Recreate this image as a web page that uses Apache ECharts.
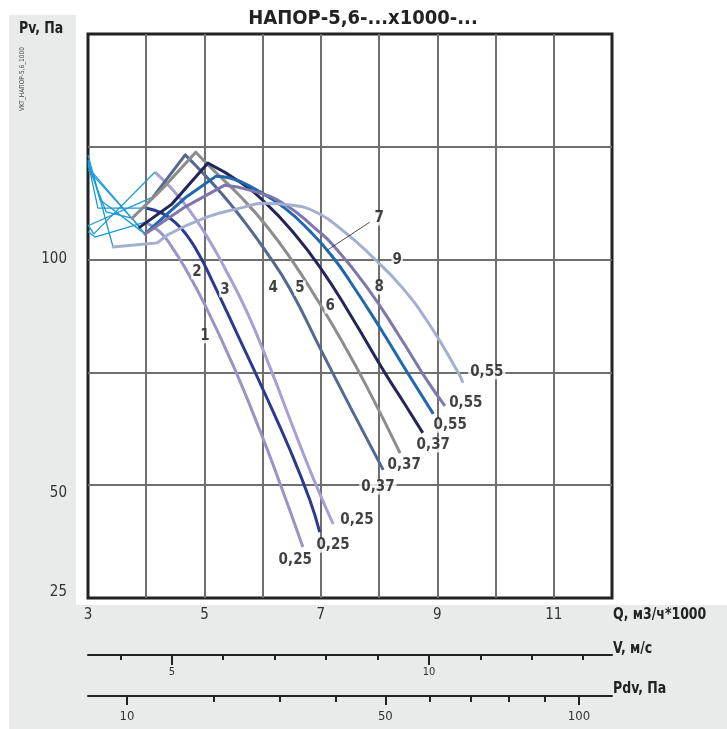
<!DOCTYPE html>
<html><head><meta charset="utf-8">
<script src="https://cdn.jsdelivr.net/npm/echarts@6/dist/echarts.min.js"></script>
<style>html,body{margin:0;padding:0;background:#fff}#c{width:727px;height:729px}</style>
</head><body><div id="c"></div>
<script>
// ---- data: Q (m3/h*1000), Pv (Pa) ----
const curve1 = [[3.98,108.3],[4.24,106.1],[4.44,102.8],[4.67,98.1],[5.01,89.9],[5.49,76.6],[5.95,62.2],[6.30,50.3],[6.69,36.3]];
const curve2 = [[4.01,111.4],[4.27,110.3],[4.51,108.1],[4.72,105.0],[4.89,101.5],[5.06,97.3],[5.61,82.2],[6.01,71.1],[6.47,57.8],[6.81,46.7],[6.98,39.6]];
const curve3 = [[4.15,119.4],[4.46,115.4],[4.75,110.8],[5.04,105.2],[5.35,98.1],[5.73,88.4],[6.13,76.0],[6.52,62.9],[6.86,51.8],[7.21,41.4]];
const curve4 = [[4.12,113.9],[4.67,123.2],[4.92,119.9],[5.27,115.0],[5.65,109.0],[6.04,102.1],[6.47,93.5],[7.02,79.5],[7.55,66.2],[8.07,53.4]];
const curve5 = [[3.76,109.2],[4.29,115.9],[4.85,123.8],[5.15,119.9],[5.61,114.1],[6.07,107.4],[6.52,99.5],[6.90,91.9],[7.33,82.6],[7.79,71.8],[8.36,57.1]];
const curve6 = [[3.89,107.2],[4.44,112.3],[5.06,121.4],[5.61,117.2],[6.07,112.3],[6.52,106.1],[6.98,98.4],[7.50,87.9],[8.10,74.9],[8.44,68.0],[8.75,61.6]];
const curve7 = [[3.98,105.7],[4.67,113.7],[5.20,118.5],[5.44,118.1],[5.90,115.4],[6.38,111.4],[6.81,106.3],[7.19,100.8],[7.53,94.6],[8.02,84.8],[8.48,75.1],[8.93,65.8]];
const curve8 = [[3.98,105.7],[4.67,111.7],[5.35,116.5],[5.78,115.4],[6.35,112.5],[6.93,106.6],[7.21,103.2],[7.79,93.9],[8.36,82.8],[8.82,73.3],[9.13,67.6]];
const curve9 = [[3.43,102.8],[4.19,103.7],[4.37,105.5],[5.04,109.4],[5.61,111.4],[6.04,112.5],[6.47,112.1],[6.90,110.6],[7.41,106.1],[7.90,100.4],[8.39,93.9],[8.87,85.5],[9.36,74.9],[9.44,72.7]];

// unstable (left) parts
const unstable1 = [[3.0,106.2],[3.12,105.0],[3.98,108.3]];
const unstable2 = [[3.0,121.6],[3.17,111.4],[4.01,111.4]];
const unstable3 = [[3.0,107.7],[3.10,105.7],[4.15,119.4]];
const unstable4 = [[3.0,107.5],[4.12,113.9]];
const unstable5 = [[3.0,121.0],[3.31,110.6],[3.76,109.2]];
const unstable6 = [[3.0,119.9],[3.89,107.2]];
const unstable7 = [[3.0,122.1],[3.21,113.2],[3.98,105.7]];
const unstable8 = [[3.0,120.5],[3.98,105.7]];
const unstable9 = [[3.0,123.2],[3.43,102.8]];

const curveNumbers = ['1','2','3','4','5','6','7','8','9'];
const numberPos = [[5.01,83.1],[4.87,97.3],[5.35,93.3],[6.18,93.7],[6.64,93.7],[7.16,89.7],[8.00,109.2],[8.00,93.9],[8.31,99.9]];
const powerTexts = ['0,25','0,25','0,25','0,37','0,37','0,37','0,55','0,55','0,55'];
const powerPos = [[6.56,33.4],[7.21,36.7],[7.62,42.3],[7.98,49.6],[8.43,54.5],[8.93,58.9],[9.22,63.3],[9.49,68.2],[9.85,75.1]];
const leader7 = [[7.84,108.3],[7.11,102.1]];

// axes
const qLabels = [3,5,7,9,11];
const pvLabels = [25,50,100];
const vTicks = [4,5,6,7,8,9,10,11,12,13];
const vLabels = [5,10];
const pdvTicks = [10,20,30,40,50,60,70,80,90,100];
const pdvLabels = [10,50,100];

// ---- styles ----
const FONT = "'Liberation Sans Narrow','Arial Narrow','DejaVu Sans Condensed','Liberation Sans',sans-serif";
const colors = ['#9a93c6','#2b3a8e','#a79fd5','#53698f','#8d8d8d','#26255a','#1f68ad','#7f77ab','#a3afce'];
const CYAN = '#1b9ad6';
const splitIdx = [0,0,0,1,2,2,2,2,2];

const curves = [curve1,curve2,curve3,curve4,curve5,curve6,curve7,curve8,curve9];
const unstable = [unstable1,unstable2,unstable3,unstable4,unstable5,unstable6,unstable7,unstable8,unstable9];

const series = [];
unstable.forEach(u => series.push({type:'line', data:u, symbol:'none', silent:true, z:2,
  lineStyle:{color:CYAN, width:1.3}}));
curves.forEach((c,i) => {
  const k = splitIdx[i];
  if (k > 0) series.push({type:'line', data:c.slice(0,k+1), symbol:'none', silent:true, z:3,
    lineStyle:{color:colors[i], width:3, cap:'round', join:'miter'}});
  series.push({type:'line', data:c.slice(k), symbol:'none', smooth:0.5, silent:true, z:3,
    lineStyle:{color:colors[i], width:3, join:'round'}});
});
series.push({type:'line', data:leader7, symbol:'none', silent:true, z:4, lineStyle:{color:'#222', width:0.8}});
const labelStyle = {show:true, position:'inside', formatter:p=>p.name, fontFamily:FONT, fontWeight:'bold', fontSize:15,
    color:'#111', backgroundColor:'#fff'};
series.push({type:'scatter', symbolSize:0, itemStyle:{color:'rgba(0,0,0,0)'}, silent:true, z:6,
  data: numberPos.map((p,i)=>({value:p, name:curveNumbers[i]})),
  label:Object.assign({}, labelStyle, {padding:[0,1]})});
series.push({type:'scatter', symbolSize:0, itemStyle:{color:'rgba(0,0,0,0)'}, silent:true, z:6,
  data: powerPos.map((p,i)=>({value:p, name:powerTexts[i]})),
  label:Object.assign({}, labelStyle, {padding:[0,2]})});

const gridLine = {show:true, showMinLine:false, showMaxLine:false, lineStyle:{color:'#6f6f6f', width:2}};
const bare = {show:false};

const option = {
  animation:false,
  grid:[
    {left:88, top:34, width:524, height:564, show:true, backgroundColor:'#fff', borderColor:'#222', borderWidth:3, z:0},
    {left:88, top:654, width:524, height:1},
    {left:88, top:695, width:524, height:1}
  ],
  xAxis:[
    {gridIndex:0, type:'value', position:'bottom', min:3, max:12, interval:1, axisLine:bare, axisTick:bare, splitLine:gridLine,
     axisLabel:{margin:10, fontFamily:FONT, fontSize:15, color:'#333',
       formatter:v=>qLabels.includes(v)?String(v):''}},
    {gridIndex:1, type:'value', position:'bottom', min:3.37, max:13.56, splitLine:bare,
     axisLine:{show:true, lineStyle:{color:'#222', width:2}},
     axisTick:{show:true, customValues:vTicks, length:5, lineStyle:{color:'#222', width:2}},
     axisLabel:{show:false}},
    {gridIndex:1, type:'value', position:'bottom', min:3.37, max:13.56, splitLine:bare, axisLine:bare,
     axisTick:{show:true, customValues:vLabels, length:10, lineStyle:{color:'#222', width:2}},
     axisLabel:{show:true, customValues:vLabels, margin:12, fontFamily:FONT, fontSize:11, color:'#333'}},
    {gridIndex:2, type:'value', position:'bottom', min:2.572, max:10.5, splitLine:bare,
     axisLine:{show:true, lineStyle:{color:'#222', width:2}},
     axisTick:{show:true, customValues:pdvTicks.map(Math.sqrt), length:6, lineStyle:{color:'#222', width:2}},
     axisLabel:{show:false}},
    {gridIndex:2, type:'value', position:'bottom', min:2.572, max:10.5, splitLine:bare, axisLine:bare,
     axisTick:{show:true, customValues:pdvLabels.map(Math.sqrt), length:9, lineStyle:{color:'#222', width:2}},
     axisLabel:{show:true, customValues:pdvLabels.map(Math.sqrt), margin:14, fontFamily:FONT, fontSize:13, color:'#333',
       formatter:v=>String(Math.round(v*v))}}
  ],
  yAxis:[
    {gridIndex:0, type:'value', min:25, max:150, interval:25, axisLine:bare, axisTick:bare, splitLine:gridLine,
     axisLabel:{margin:21, fontFamily:FONT, fontSize:15, color:'#333',
       formatter:v=> v===25?'{b|25}': v===50?'{m|50}': pvLabels.includes(v)?String(v):'',
       rich:{b:{fontFamily:FONT, fontSize:15, color:'#333', padding:[0,0,12,0]},
             m:{fontFamily:FONT, fontSize:15, color:'#333', padding:[16,0,0,0]}}}},
    {gridIndex:1, type:'value', show:false},
    {gridIndex:2, type:'value', show:false}
  ],
  graphic:[
    {type:'rect', z:-10, shape:{x:9, y:15, width:67, height:714}, style:{fill:'#e9eaea'}},
    {type:'rect', z:-10, shape:{x:9, y:605, width:718, height:124}, style:{fill:'#e9eaea'}},
    {type:'text', z:10, style:{text:'НАПОР-5,6-...x1000-...', x:363, y:19, align:'center', verticalAlign:'middle',
      fontFamily:FONT, fontWeight:'bold', fontSize:20, fill:'#222'}},
    {type:'text', z:10, x:19, y:29, scaleX:0.87, style:{text:'Pv, Па', x:0, y:0, align:'left', verticalAlign:'middle',
      fontFamily:FONT, fontWeight:'bold', fontSize:16, fill:'#222'}},
    {type:'text', z:10, rotation:Math.PI/2, x:22, y:79, style:{text:'VKT_НАПОР-5,6_1000', x:0, y:0, align:'center', verticalAlign:'middle',
      fontFamily:FONT, fontSize:6.5, fill:'#444'}},
    {type:'text', z:10, x:613, y:615, scaleX:0.87, style:{text:'Q, м3/ч*1000', x:0, y:0, align:'left', verticalAlign:'middle',
      fontFamily:FONT, fontWeight:'bold', fontSize:16, fill:'#222'}},
    {type:'text', z:10, x:613, y:649, scaleX:0.87, style:{text:'V, м/с', x:0, y:0, align:'left', verticalAlign:'middle',
      fontFamily:FONT, fontWeight:'bold', fontSize:16, fill:'#222'}},
    {type:'text', z:10, x:613, y:689, scaleX:0.87, style:{text:'Pdv, Па', x:0, y:0, align:'left', verticalAlign:'middle',
      fontFamily:FONT, fontWeight:'bold', fontSize:16, fill:'#222'}}
  ],
  series: series
};
const chart = echarts.init(document.getElementById('c'), null, {renderer:'canvas'});
chart.setOption(option);
</script></body></html>
